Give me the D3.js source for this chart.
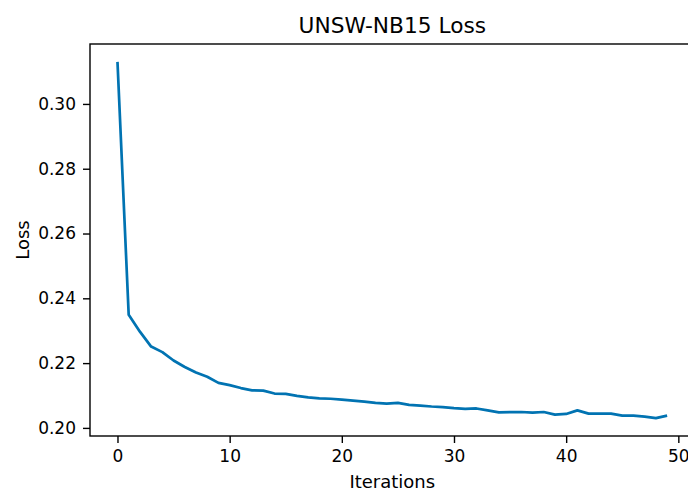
<!DOCTYPE html>
<html>
<head>
<meta charset="utf-8">
<script src="https://cdn.jsdelivr.net/npm/d3@7"></script>
<style>
  body { margin: 0; background: #fff; }
  svg { display: block; font-family: "DejaVu Sans", sans-serif; }
</style>
</head>
<body>
<div id="chart"></div>
<script>
// loss per iteration
var iterations = d3.range(0, 50);
var loss = [
  0.3130, 0.2349, 0.2297, 0.2251, 0.2234, 0.2208, 0.2188, 0.2171, 0.2158, 0.2139,
  0.2132, 0.2123, 0.2116, 0.2115, 0.2106, 0.2105, 0.2099, 0.2094, 0.2091, 0.2090,
  0.2087, 0.2084, 0.2081, 0.2077, 0.2075, 0.2077, 0.2071, 0.2069, 0.2066, 0.2064,
  0.2061, 0.2059, 0.2060, 0.2054, 0.2048, 0.2049, 0.2049, 0.2047, 0.2049, 0.2041,
  0.2043, 0.2054, 0.2044, 0.2044, 0.2044, 0.2038, 0.2038, 0.2035, 0.2030, 0.2038
];
var xTicks = [0, 10, 20, 30, 40, 50];
var yTicks = [0.20, 0.22, 0.24, 0.26, 0.28, 0.30];

var W = 688, H = 490;
var mLeft = 90, mTop = 44, mBottom = 436, mRight = 694.6;

var svg = d3.select('#chart').append('svg')
  .attr('width', W)
  .attr('height', H);

// matplotlib-like 5% margins
var xMin = d3.min(iterations), xMax = d3.max(iterations);
var xPad = (xMax - xMin) * 0.05;
var x = d3.scaleLinear().domain([xMin - xPad, xMax + xPad]).range([mLeft, mRight]);

var yMin = d3.min(loss), yMax = d3.max(loss);
var yPad = (yMax - yMin) * 0.05;
var y = d3.scaleLinear().domain([yMin - yPad, yMax + yPad]).range([mBottom, mTop]);

var pts = iterations.map(function(d, i) { return [d, loss[i]]; });

svg.append('path')
  .datum(pts)
  .attr('fill', 'none')
  .attr('stroke', '#0173b2')
  .attr('stroke-width', 2.7)
  .attr('stroke-linejoin', 'round')
  .attr('d', d3.line()
    .x(function(d) { return x(d[0]); })
    .y(function(d) { return y(d[1]); }));

// axes
var xAxis = svg.append('g')
  .attr('transform', 'translate(0,' + mBottom + ')')
  .call(d3.axisBottom(x).tickValues(xTicks).tickSize(7).tickPadding(7).tickFormat(d3.format('d')));
var yAxis = svg.append('g')
  .attr('transform', 'translate(' + mLeft + ',0)')
  .call(d3.axisLeft(y).tickValues(yTicks).tickSize(7).tickPadding(7).tickFormat(d3.format('.2f')));

[xAxis, yAxis].forEach(function(a) {
  a.select('.domain').remove();
  a.selectAll('.tick line').attr('stroke', '#000').attr('stroke-width', 1.4);
  a.selectAll('.tick text').attr('fill', '#000').style('font-size', '17px')
    .style('font-family', '"DejaVu Sans", sans-serif');
});

// spines
svg.append('rect')
  .attr('x', mLeft)
  .attr('y', mTop)
  .attr('width', mRight - mLeft)
  .attr('height', mBottom - mTop)
  .attr('fill', 'none')
  .attr('stroke', '#000')
  .attr('stroke-width', 1.4);

// labels
svg.append('text')
  .attr('x', (mLeft + mRight) / 2)
  .attr('y', 33)
  .attr('text-anchor', 'middle')
  .style('font-size', '21.7px')
  .text('UNSW-NB15 Loss');

svg.append('text')
  .attr('x', (mLeft + mRight) / 2)
  .attr('y', 487.5)
  .attr('text-anchor', 'middle')
  .style('font-size', '18px')
  .text('Iterations');

svg.append('text')
  .attr('transform', 'translate(29,' + ((mTop + mBottom) / 2) + ') rotate(-90)')
  .attr('text-anchor', 'middle')
  .style('font-size', '18px')
  .text('Loss');
</script>
</body>
</html>
